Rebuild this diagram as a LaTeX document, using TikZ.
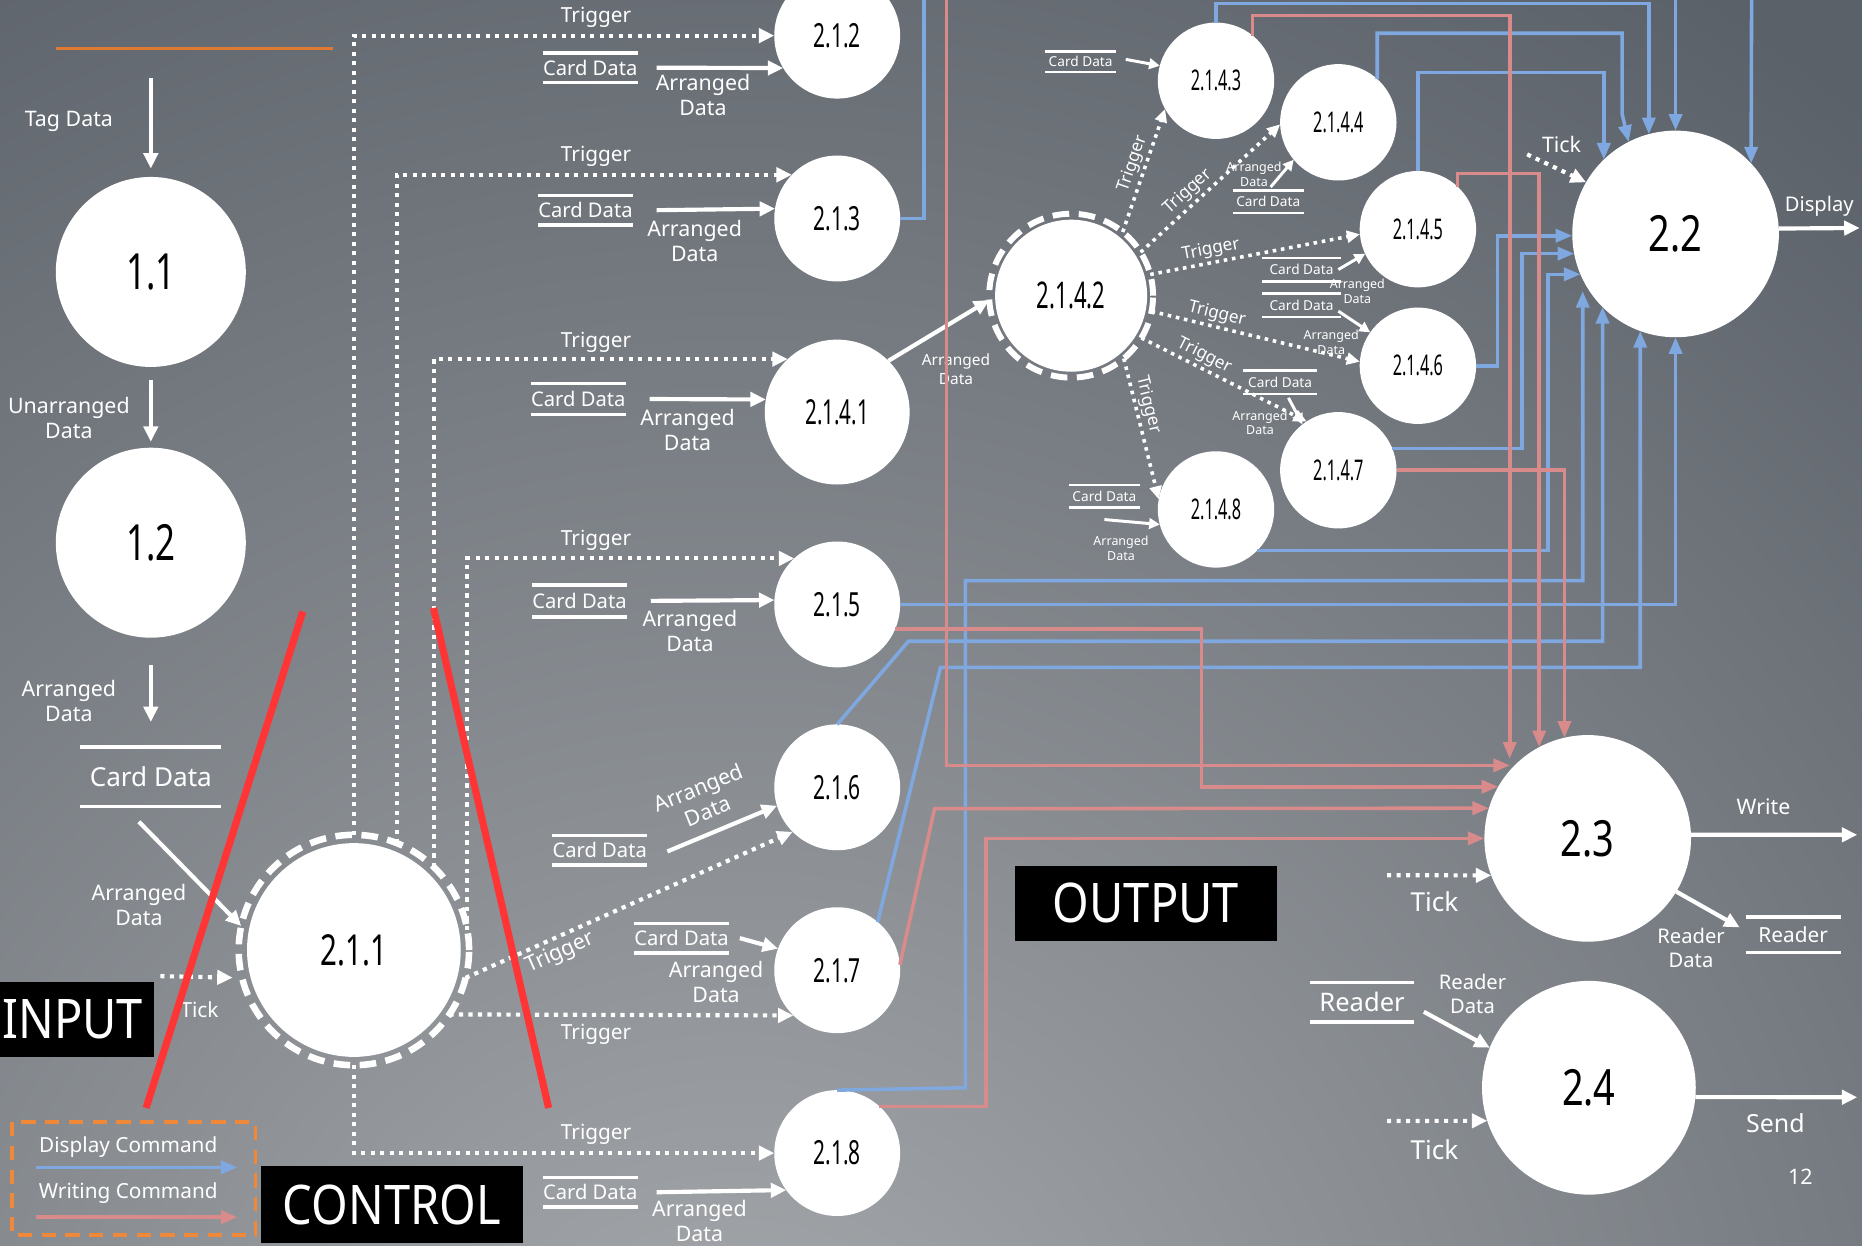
\documentclass[tikz,border=0pt]{standalone}
\usepackage{fontspec}
\setmainfont{Noto Sans}
\usetikzlibrary{arrows.meta}
\definecolor{bgtop}{HTML}{5B6169}
\definecolor{bglow}{HTML}{A8ABAE}
\definecolor{dispblue}{HTML}{7EA8DF}
\definecolor{writepink}{HTML}{D98B8B}
\definecolor{cutred}{HTML}{FF3535}
\definecolor{rulecol}{HTML}{E07A32}
\definecolor{legendcol}{HTML}{F0883A}
\newcommand\fsz[2]{\fontsize{#1}{#2}\selectfont}
\newcommand\cnd[2]{\scalebox{#1}[1]{#2}}
\tikzset{
  proc/.style={circle, fill=white, text=black, inner sep=0pt, outer sep=0pt, minimum size=#1},
  ring/.style={circle, draw=white, line width=5.5pt, dash pattern=on 14pt off 8pt, inner sep=0pt, outer sep=0pt, minimum size=#1},
  num/.style={font=\fsz{#1}{#1}},
  lab/.style={text=white, align=center, inner sep=0pt, font=\fsz{18}{21}},
  labl/.style={lab, font=\fsz{22}{24}},
  labm/.style={lab, font=\fsz{13}{15.5}},
  labt/.style={lab, font=\fsz{14.5}{16}},
  labs/.style={lab, font=\fsz{10.5}{12.5}},
  storeline/.style={draw=white, line width=3pt},
  storelines/.style={draw=white, line width=2pt},
  store/.style args={#1/#2}{text=white, inner sep=0pt, outer sep=0pt, minimum width=#1, minimum height=#2, font=\fsz{17}{19},
    append after command={(\tikzlastnode.north west) edge[storeline] (\tikzlastnode.north east)
      (\tikzlastnode.south west) edge[storeline] (\tikzlastnode.south east)}},
  stores/.style args={#1/#2}{text=white, inner sep=0pt, outer sep=0pt, minimum width=#1, minimum height=#2, font=\fsz{11.5}{13},
    append after command={(\tikzlastnode.north west) edge[storelines] (\tikzlastnode.north east)
      (\tikzlastnode.south west) edge[storelines] (\tikzlastnode.south east)}},
  flow/.style={draw=white, line width=3.5pt, -{Triangle[length=13pt,width=12pt]}},
  flows/.style={draw=white, line width=2.5pt, -{Triangle[length=9pt,width=9pt]}},
  trig/.style={draw=white, line width=3.5pt, dash pattern=on 3.5pt off 4.5pt, -{Triangle[length=13pt,width=12pt]}},
  trigs/.style={trig, line width=3pt, dash pattern=on 3pt off 4pt, -{Triangle[length=11pt,width=10pt]}},
  dcmd/.style={draw=dispblue, line width=3pt, -{Triangle[length=14pt,width=11pt]}},
  wcmd/.style={draw=writepink, line width=3pt, -{Triangle[length=14pt,width=11pt]}},
  blk/.style={fill=black, text=white, inner sep=0pt, font=\fsz{46}{46}},
  cutline/.style={draw=cutred, line width=6pt},
}

\begin{document}
\begin{tikzpicture}[x=1pt,y=-1pt]
  % background
  \useasboundingbox (0,0) rectangle (1568,1049);
  \fill[bgtop] (0,0) rectangle (1568,1049);
  \begin{scope}
    \clip (0,0) rectangle (1568,1049);
    \shade[inner color=bglow, outer color=bgtop] (620,1250) circle[radius=1500];
  \end{scope}
  \draw[rulecol, line width=2pt] (47,41) -- (280,41);

  % input side
  \node[proc=160, num=42] (n11) at (127,229) {\cnd{0.7}{1.1}};
  \node[proc=160, num=42] (n12) at (127,457) {\cnd{0.7}{1.2}};
  \node[store={119/50}, font=\fsz{22}{24}] (cdl) at (127,654) {Card Data};
  \node[proc=180, num=36] (n211) at (298,800) {\cnd{0.69}{2.1.1}};
  \node[ring=194] (r211) at (n211) {};
  \coordinate (tagin) at (127,66);
  \coordinate (tk211) at (135,822);
  \draw[flow] (tagin) -- ([yshift=7pt]n11.north);
  \draw[flow, shorten <=11pt, shorten >=5pt] (n11.south) -- (n12.north);
  \draw[flow, shorten <=23pt, shorten >=21pt] (n12.south) -- (cdl.north);
  \draw[flow] ([shift={(-10,13)}]cdl.south) -- (r211.168);
  \draw[trig, shorten >=8pt] (tk211) -- (r211.194);
  \node[lab] (lbtag) at (58,102) {Tag Data};
  \node[lab] (lbun) at (58,352) {Unarranged\\Data};
  \node[lab] (lbar1) at (58,590) {Arranged\\Data};
  \node[lab] (lbar2) at (117,762) {Arranged\\Data};
  \node[lab, font=\fsz{17.5}{20}] (lbtk1) at (168,850) {Tick};

  % control processes
  \node[proc=106, num=28] (n212) at (705,30) {\cnd{0.63}{2.1.2}};
  \node[proc=106, num=28] (n213) at (705,184) {\cnd{0.63}{2.1.3}};
  \node[proc=122, num=29] (n2141) at (705,347) {\cnd{0.6}{2.1.4.1}};
  \node[proc=106, num=28] (n215) at (705,509) {\cnd{0.63}{2.1.5}};
  \node[proc=106, num=28] (n216) at (705,663) {\cnd{0.63}{2.1.6}};
  \node[proc=106, num=28] (n217) at (705,817) {\cnd{0.63}{2.1.7}};
  \node[proc=106, num=28] (n218) at (705,971) {\cnd{0.63}{2.1.8}};

  \draw[trig] (r211.90) |- (n212.west);
  \draw[trig] (r211.68) |- (n213.136);
  \draw[trig] (r211.46) |- (n2141.133);
  \draw[trig] (r211.10) |- (n215.133);
  \draw[trig] (r211.-14) -- node[lab, sloped, below=3pt, pos=0.27] (tg216) {Trigger} (n216.225);
  \draw[trig] (r211.-34) -- (n217.226);
  \draw[trig] (r211.-90) |- (n218.west);
  \node[lab, font=\fsz{17.5}{20}] (tg212) at (502,15) {Trigger};
  \node[lab, font=\fsz{17.5}{20}] (tg213) at (502,132) {Trigger};
  \node[lab, font=\fsz{17.5}{20}] (tg2141) at (502,288) {Trigger};
  \node[lab, font=\fsz{17.5}{20}] (tg215) at (502,455) {Trigger};
  \node[lab, font=\fsz{17.5}{20}] (tg217) at (502,871) {Trigger};
  \node[lab, font=\fsz{17.5}{20}] (tg218) at (502,955) {Trigger};

  \node[store={80/25}] (cd212) at (497,57) {Card Data};
  \node[store={80/25}] (cd213) at (493,177) {Card Data};
  \node[store={80/26}] (cd2141) at (487,336) {Card Data};
  \node[store={80/27}] (cd215) at (488,506) {Card Data};
  \node[store={80/25}] (cd216) at (505,716) {Card Data};
  \node[store={80/25}] (cd217) at (574,790) {Card Data};
  \node[store={80/25}] (cd218) at (497,1004) {Card Data};
  \draw[flow] (cd212.east) ++(16,0) -- (n212.211);
  \draw[flow] (cd213.east) ++(20,0) -- (n213.171);
  \draw[flow] (cd2141.east) ++(20,0) -- (n2141.170);
  \draw[flow] (cd215.east) ++(20,0) -- (n215.176);
  \draw[flow] (cd216.east) ++(17,1) -- (n216.197);
  \draw[flow] (cd217.east) ++(9,0) -- (n217.160);
  \draw[flow] (cd218.east) ++(16,0) -- (n218.216);
  \node[lab] (ad212) at (592,80) {Arranged\\Data};
  \node[lab] (ad213) at (585,203) {Arranged\\Data};
  \node[lab] (ad2141) at (579,362) {Arranged\\Data};
  \node[lab] (ad215) at (581,531) {Arranged\\Data};
  \node[lab, rotate=22] (ad216) at (592,673) {Arranged\\Data};
  \node[lab] (ad217) at (603,827) {Arranged\\Data};
  \node[lab] (ad218) at (589,1028) {Arranged\\Data};

  % sub processes of 2.1.4
  \node[proc=128, num=31] (n2142) at (902,249) {\cnd{0.6}{2.1.4.2}};
  \node[ring=138, line width=5pt] (r2142) at (n2142) {};
  \node[proc=98, num=24] (n2143) at (1024,68) {\cnd{0.57}{2.1.4.3}};
  \node[proc=98, num=24] (n2144) at (1127,103) {\cnd{0.57}{2.1.4.4}};
  \node[proc=98, num=24] (n2145) at (1194,193) {\cnd{0.57}{2.1.4.5}};
  \node[proc=98, num=24] (n2146) at (1194,308) {\cnd{0.57}{2.1.4.6}};
  \node[proc=98, num=24] (n2147) at (1127,396) {\cnd{0.57}{2.1.4.7}};
  \node[proc=98, num=24] (n2148) at (1024,429) {\cnd{0.57}{2.1.4.8}};
  \draw[flow] (n2141.45) -- (r2142.183);
  \node[labm] (ad2142) at (805,311) {Arranged\\Data};

  \draw[trigs] (r2142.51) -- node[labt, sloped, above=2pt, pos=0.52] (tg2143) {Trigger} (n2143.209);
  \draw[trigs] (r2142.32) -- node[labt, sloped, above=2pt, pos=0.4] (tg2144) {Trigger} (n2144.182);
  \draw[trigs] (r2142.15) -- node[labt, sloped, above=2pt, pos=0.3] (tg2145) {Trigger} (n2145.185);
  \draw[trigs] (r2142.-11) -- node[labt, sloped, above=2pt, pos=0.3] (tg2146) {Trigger} (n2146.176);
  \draw[trigs] (r2142.-31) -- node[labt, sloped, above=2pt, pos=0.35] (tg2147) {Trigger} (n2147.123);
  \draw[trigs] (r2142.-50) -- node[labt, sloped, above=2pt, pos=0.35] (tg2148) {Trigger} (n2148.170);

  \node[stores={60/17}] (cd2143) at (910,52) {Card Data};
  \node[stores={60/19}] (cd2144) at (1068,170) {Card Data};
  \node[stores={66/20}] (cd2145) at (1096,227) {Card Data};
  \node[stores={66/20}] (cd2146) at (1096,257) {Card Data};
  \node[stores={62/20}] (cd2147) at (1078,322) {Card Data};
  \node[stores={60/19}] (cd2148) at (930,418) {Card Data};
  \draw[flows] (cd2143.east) ++(8,-2) -- (n2143.165);
  \draw[flows] (cd2144.north) ++(2,-3) -- (n2144.220);
  \draw[flows] (cd2145.east) ++(-2,0) -- (n2145.205);
  \draw[flows] (cd2146.east) ++(-2,5) -- (n2146.145);
  \draw[flows] (cd2147.south) ++(7,3) -- (n2147.128);
  \draw[flows] (cd2148.south) ++(0,10) -- (n2148.195);
  \node[labs] (ad2144) at (1056,147) {Arranged\\Data};
  \node[labs] (ad2145) at (1143,245) {Arranged\\Data};
  \node[labs] (ad2146) at (1121,288) {Arranged\\Data};
  \node[labs] (ad2147) at (1061,356) {Arranged\\Data};
  \node[labs] (ad2148) at (944,462) {Arranged\\Data};

  % output processes
  \node[proc=174, num=42] (n22) at (1411,197) {\cnd{0.76}{2.2}};
  \node[proc=174, num=42] (n23) at (1337,706) {\cnd{0.76}{2.3}};
  \node[proc=180, num=42] (n24) at (1338,916) {\cnd{0.76}{2.4}};
  \node[store={80/30}, font=\fsz{17.5}{19}] (rd23) at (1510,787) {Reader};
  \node[store={88/33}, font=\fsz{21.5}{23}] (rd24) at (1147,844) {Reader};
  \coordinate (tk22) at (1286,130);
  \coordinate (tk23) at (1168,737);
  \coordinate (tk24) at (1168,944);
  \coordinate (dispout) at (1566,192);
  \coordinate (wrout) at (1564,703);
  \coordinate (sendout) at (1564,924);
  \draw[trig] (tk22) -- (n22.150);
  \draw[trig] (tk23) -- (n23.201);
  \draw[trig] (tk24) -- (n24.198);
  \draw[flow] (n22.3) -- (dispout);
  \draw[flow] (n23.2) -- (wrout);
  \draw[flow] (n24.-5) -- (sendout);
  \draw[flow] (n23.-31) -- ([shift={(-5,-6)}]rd23.west);
  \draw[flow] (rd24.east) ++(8,8) -- (n24.158);
  \node[lab] (lbtk22) at (1315,122) {Tick};
  \node[lab, font=\fsz{17}{19}] (lbdisp) at (1532,174) {Display};
  \node[lab] (lbwr) at (1485,679) {Write};
  \node[labl] (lbtk23) at (1208,759) {Tick};
  \node[lab, font=\fsz{17}{20}] (lbrd23) at (1424,798) {Reader\\Data};
  \node[lab, font=\fsz{17}{20}] (lbrd24) at (1240,837) {Reader\\Data};
  \node[labl] (lbtk24) at (1208,968) {Tick};
  \node[lab, font=\fsz{21}{23}] (lbsend) at (1495,946) {Send};
  \node[lab] (pgno) at (1516,991) {12};

  % display commands
  \coordinate (dtop1) at (778,0);
  \coordinate (dtop2) at (1411,0);
  \coordinate (dtop3) at (1475,0);
  \draw[dcmd,-] (n213.east) -| (dtop1);
  \draw[dcmd] (dtop2) -- (n22.north);
  \draw[dcmd] (dtop3) -- (n22.43);
  \draw[dcmd] (n2143.north) -- ++(0,-16) -| (n22.105);
  \draw[dcmd] (n2144.48) |- (1366,28) -- (1366,96) -- (n22.117);
  \draw[dcmd] (n2145.north) -- ++(0,-83) -| (n22.134);
  \draw[dcmd] (n2146.east) -- ++(18,0) |- (n22.181);
  \draw[dcmd] (n2147.22) -- ++(109,0) |- (n22.191);
  \draw[dcmd] (n2148.-45) -- ++(245,0) |- (n22.203);
  \draw[dcmd] (n218.north) -- (813,916) -- (813,489) -| ([yshift=-10pt]n22.206);
  \draw[dcmd] (n215.east) -| (n22.south);
  \draw[dcmd] (n216.north) -- (765,540) -| (n22.225);
  \draw[dcmd] (n217.50) -- (792,562) -| (n22.250);

  % writing commands
  \coordinate (wtop) at (797,0);
  \draw[wcmd] (wtop) |- ([xshift=-4pt]n23.135);
  \draw[wcmd] (n215.-23) -- ++(258,0) |- (n23.150);
  \draw[wcmd] (n217.5) -- (787,681) -- (n23.163);
  \draw[wcmd] (n218.48) -- ++(90,0) |- (n23.west);
  \draw[wcmd] (n2143.51) -- ++(0,-17) -| ([yshift=10pt]n23.139);
  \draw[wcmd] (n2145.47) -- ++(0,-11) -| (n23.118);
  \draw[wcmd] (n2147.east) -| (n23.103);

  % section marks
  \draw[cutline] (255,515) -- (123,933);
  \draw[cutline] (365,512) -- (462,933);
  \node[blk, minimum width=130pt, minimum height=63pt, text width=126pt, align=left] (inbox) at (65,858.5) {\cnd{0.86}{INPUT}};
  \node[blk, minimum width=220pt, minimum height=65pt] (ctlbox) at (330,1014.5) {\cnd{0.86}{CONTROL}};
  \node[blk, minimum width=220pt, minimum height=63pt] (outbox) at (965,760.5) {\cnd{0.86}{OUTPUT}};

  % legend
  \draw[legendcol, line width=3pt, dash pattern=on 12pt off 8pt] (10,945) rectangle (215,1040);
  \node[lab, font=\fsz{17.5}{20}] (lgdisp) at (108,966) {Display Command};
  \node[lab, font=\fsz{17.5}{20}] (lgwrite) at (108,1005) {Writing Command};
  \draw[dcmd] (30,983) -- (200,983);
  \draw[wcmd] (30,1025) -- (200,1025);
\end{tikzpicture}
\end{document}
